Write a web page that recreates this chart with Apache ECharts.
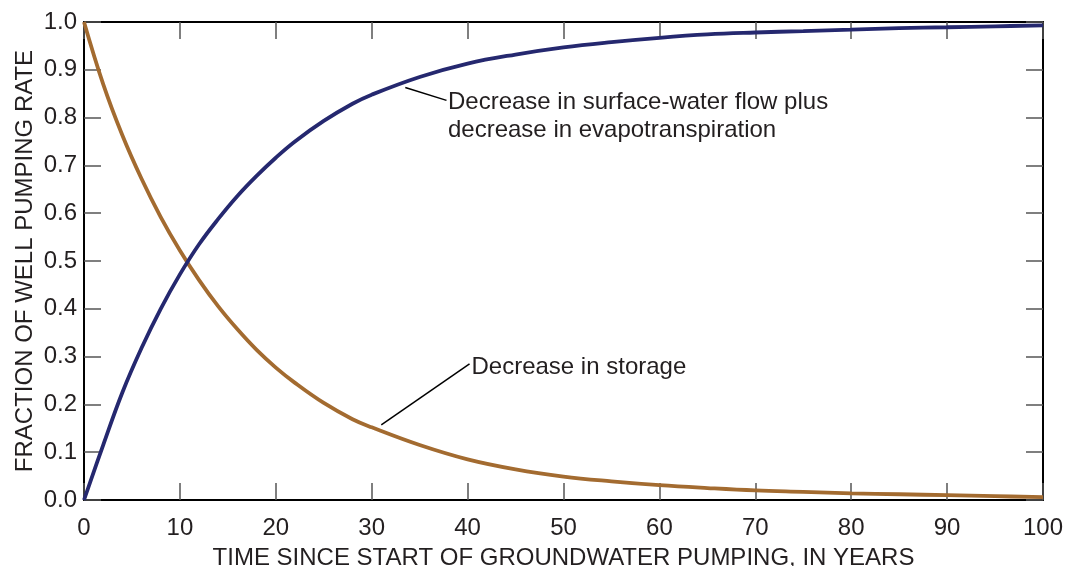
<!DOCTYPE html>
<html>
<head>
<meta charset="utf-8">
<script src="https://cdn.jsdelivr.net/npm/echarts@6/dist/echarts.min.js"></script>
<style>
  html, body { margin: 0; padding: 0; background: #fff; }
  #chart { width: 1065px; height: 566px; }
</style>
</head>
<body>
<div id="chart"></div>
<script>
  // years since start of pumping
  var years = [0, 2, 4, 6, 8, 10, 12, 14, 16, 18, 20, 22, 25, 28, 30, 35, 40, 45, 50, 55, 60, 65, 70, 75, 80, 85, 90, 95, 100]
  // fraction supplied from aquifer storage
  var storage = [1.0, 0.87, 0.763, 0.672, 0.592, 0.522, 0.46, 0.405, 0.357, 0.314, 0.277, 0.245, 0.203, 0.169, 0.152, 0.115, 0.085, 0.064, 0.049, 0.039, 0.031, 0.025, 0.020, 0.017, 0.014, 0.012, 0.010, 0.008, 0.006]
  // fraction from surface-water flow + evapotranspiration
  var capture = [0, 0.115, 0.225, 0.318, 0.40, 0.472, 0.535, 0.588, 0.636, 0.678, 0.716, 0.75, 0.793, 0.829, 0.848, 0.885, 0.913, 0.932, 0.947, 0.958, 0.967, 0.974, 0.978, 0.981, 0.984, 0.987, 0.989, 0.991, 0.993]
  var xTicks = [0, 10, 20, 30, 40, 50, 60, 70, 80, 90, 100]
  var yTicks = ['0.0', '0.1', '0.2', '0.3', '0.4', '0.5', '0.6', '0.7', '0.8', '0.9', '1.0']

  var font = '"Liberation Sans", Arial, sans-serif'
  var txt = '#231f20'

  function pairs (ys) {
    var out = []
    for (var i = 0; i < years.length; i++) out.push([years[i], ys[i]])
    return out
  }

  var tickStyle = { show: true, inside: true, length: 17, lineStyle: { color: '#555', width: 1.5 } }
  var lineStyle = { show: true, onZero: false, lineStyle: { color: '#000', width: 2 } }

  var chart = echarts.init(document.getElementById('chart'))
  chart.setOption({
    animation: false,
    textStyle: { fontFamily: font },
    grid: { left: 84, right: 22, top: 22, bottom: 66, outerBoundsMode: 'none', containLabel: false },
    xAxis: [{
      type: 'value', min: 0, max: 100, interval: 10,
      axisLine: lineStyle, axisTick: tickStyle, splitLine: { show: false },
      axisLabel: { margin: 16, fontSize: 24, color: txt, fontFamily: font,
        formatter: function (v) { return xTicks.indexOf(v) >= 0 ? String(v) : '' } },
      name: 'TIME SINCE START OF GROUNDWATER PUMPING, IN YEARS',
      nameLocation: 'middle', nameGap: 46, nameMoveOverlap: false,
      nameTextStyle: { fontSize: 24, color: txt, fontFamily: font }
    }, {
      type: 'value', position: 'top', min: 0, max: 100, interval: 10,
      axisLine: lineStyle, axisTick: tickStyle, axisLabel: { show: false }, splitLine: { show: false }
    }],
    yAxis: [{
      type: 'value', min: 0, max: 1, interval: 0.1,
      axisLine: lineStyle, axisTick: tickStyle, splitLine: { show: false },
      axisLabel: { margin: 7, fontSize: 24, color: txt, fontFamily: font,
        formatter: function (v) { return yTicks[Math.round(v * 10)] } },
      name: 'FRACTION OF WELL PUMPING RATE',
      nameLocation: 'middle', nameGap: 47, nameMoveOverlap: false,
      nameTextStyle: { fontSize: 24, color: txt, fontFamily: font }
    }, {
      type: 'value', position: 'right', min: 0, max: 1, interval: 0.1,
      axisLine: lineStyle, axisTick: tickStyle, axisLabel: { show: false }, splitLine: { show: false }
    }],
    series: [{
      name: 'storage',
      type: 'line', smooth: 0.4, symbol: 'none',
      data: pairs(storage),
      lineStyle: { color: '#a36b30', width: 3.8 },
      markLine: {
        silent: true, symbol: 'none', label: { show: false },
        lineStyle: { color: '#000', width: 1.5, type: 'solid' },
        data: [[{ coord: [31.0, 0.157] }, { coord: [40.2, 0.285] }]]
      },
      markPoint: {
        symbolSize: 0, silent: true,
        data: [{ coord: [40.3, 0.278] }],
        label: { show: true, position: 'right', distance: 1, fontSize: 24, color: txt, fontFamily: font,
          formatter: 'Decrease in storage' }
      }
    }, {
      name: 'capture',
      type: 'line', smooth: 0.4, symbol: 'none',
      data: pairs(capture),
      lineStyle: { color: '#25286f', width: 3.8 },
      markLine: {
        silent: true, symbol: 'none', label: { show: false },
        lineStyle: { color: '#000', width: 1.5, type: 'solid' },
        data: [[{ coord: [33.5, 0.863] }, { coord: [37.8, 0.836] }]]
      },
      markPoint: {
        symbolSize: 0, silent: true,
        data: [{ coord: [37.85, 0.802] }],
        label: { show: true, position: 'right', distance: 1, fontSize: 24, lineHeight: 28, color: txt, fontFamily: font,
          formatter: 'Decrease in surface-water flow plus\ndecrease in evapotranspiration' }
      }
    }]
  })
</script>
</body>
</html>
